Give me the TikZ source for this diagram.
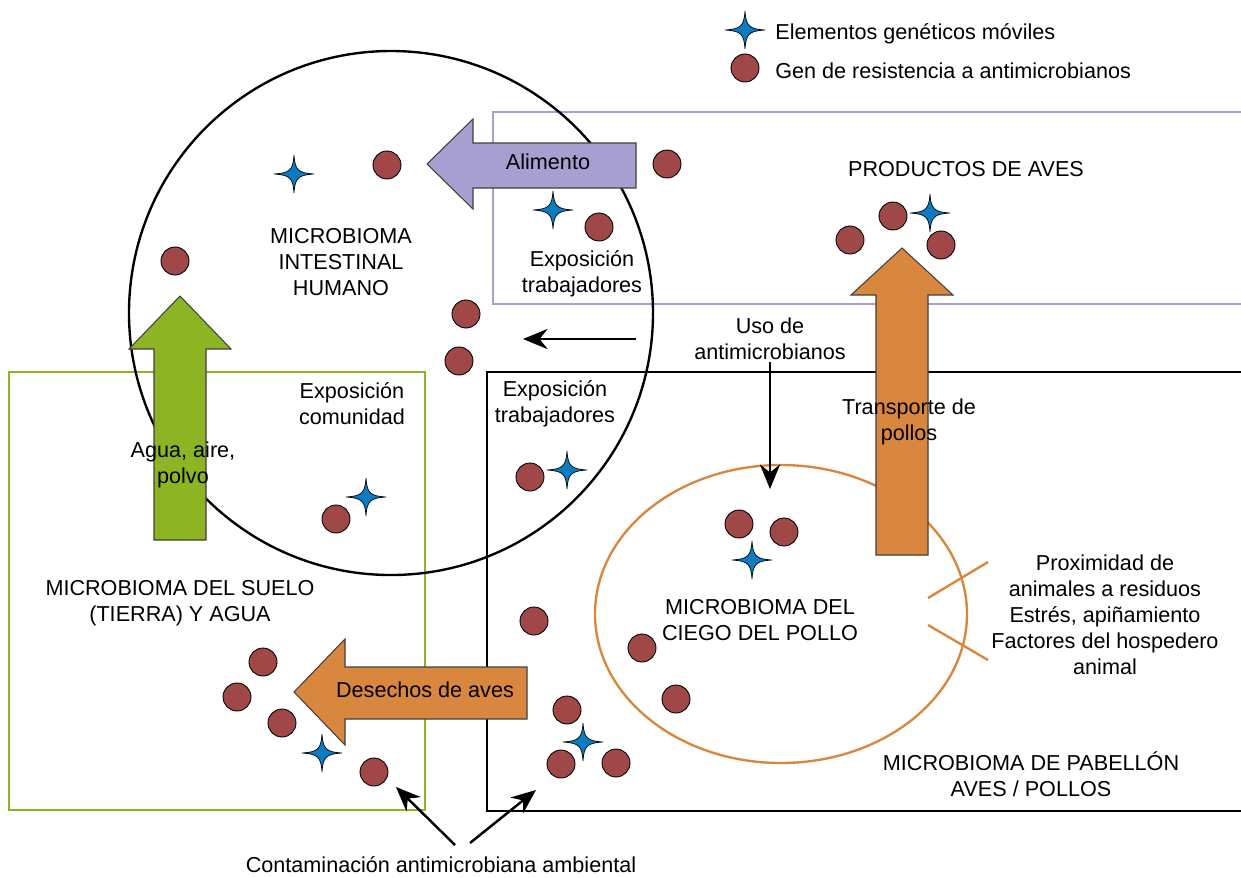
\documentclass[tikz,border=0pt]{standalone}
\usepackage{fontspec}
\setmainfont{Liberation Sans}
\usetikzlibrary{arrows.meta}
\definecolor{lavender}{HTML}{A79FCF}
\definecolor{grassgreen}{HTML}{8DB422}
\definecolor{poultryorange}{HTML}{D9873F}
\definecolor{genered}{HTML}{A04848}
\definecolor{mgeblue}{HTML}{0B7CC2}
\tikzset{
  txt/.style={align=center,font=\fontsize{12.3pt}{14.75pt}\selectfont,inner sep=0pt},
  region/.style={line width=1.35pt},
  bigarrow/.style={draw=black!75,line width=0.6pt,line join=miter},
  gene/.style={circle,draw=black,fill=genered,line width=0.5pt,minimum size=0.56cm,inner sep=0pt},
  mge/.pic={\filldraw[fill=mgeblue,draw=black,line width=0.4pt] (20,0) .. controls (4,1) and (1,4) .. (0,19) .. controls (-1,4) and (-4,1) .. (-20,0) .. controls (-4,-1) and (-1,-4) .. (0,-19) .. controls (1,-4) and (4,-1) .. cycle;},
  flow/.style={line width=1.4pt,-{Stealth[length=14pt,width=11.5pt]}}
}

\begin{document}
\begin{tikzpicture}[x=0.02cm,y=-0.02cm]
  \useasboundingbox (0,0) rectangle (1241,877);

  % regions
  \draw[region,lavender] (493,112) rectangle (1250,304);
  \draw[region,grassgreen] (9,372) rectangle (425,810);
  \draw[region,black] (487,372) rectangle (1250,811);
  \draw[region,poultryorange] (781,614) ellipse [x radius=186,y radius=149];
  \draw[region,black] (391,313) circle [radius=262];

  % factors touching the caecum
  \draw[region,poultryorange] (928,598) -- (988,562);
  \draw[region,poultryorange] (928,625) -- (988,660);

  % big arrows
  \draw[bigarrow,fill=lavender] (427,164) -- (473,119) -- (473,143) -- (636,143) -- (636,188) -- (473,188) -- (473,209) -- cycle;
  \draw[bigarrow,fill=grassgreen] (180,296) -- (231,349) -- (206,349) -- (206,540) -- (154,540) -- (154,349) -- (129,349) -- cycle;
  \draw[bigarrow,fill=poultryorange] (902,248) -- (953,295) -- (928,295) -- (928,555) -- (876,555) -- (876,295) -- (851,295) -- cycle;
  \draw[bigarrow,fill=poultryorange] (294,692) -- (345,639) -- (345,667) -- (527,667) -- (527,719) -- (345,719) -- (345,745) -- cycle;

  % genes and mobile elements
  \foreach \x/\y [count=\i] in {745/68,387/165,667/164,599/227,175/261,466/314,459/361,893/216,850/240,941/245,530/477,336/519,739/524,784/532,534/621,642/648,676/699,263/662,237/697,282/723,374/772,567/710,561/764,616/763}
    \node[gene] (gene\i) at (\x,\y) {};
  \foreach \x/\y [count=\i] in {745/30,294/174,553/210,930/213,567/470,366/497,752/560,322/753,583/742}
    \pic (mge\i) at (\x,\y) {mge};

  % texts
  \node[txt,anchor=base west] (legmge) at (775,39) {Elementos genéticos móviles};
  \node[txt,anchor=base west] (leggene) at (775,78) {Gen de resistencia a antimicrobianos};
  \node[txt] (food) at (548,162) {Alimento};
  \node[txt] (products) at (966,169) {PRODUCTOS DE AVES};
  \node[txt] (human) at (341,262) {MICROBIOMA\\INTESTINAL\\HUMANO};
  \node[txt] (workers1) at (582,274) {Exposición\\trabajadores};
  \node[txt] (use) at (770,339) {Uso de\\antimicrobianos};
  \node[txt] (community) at (352,404) {Exposición\\comunidad};
  \node[txt] (workers2) at (555,404) {Exposición\\trabajadores};
  \node[txt] (transport) at (909,422) {Transporte de\\pollos};
  \node[txt] (air) at (183,465) {Agua, aire,\\polvo};
  \node[txt] (soil) at (180,603) {MICROBIOMA DEL SUELO\\(TIERRA) Y AGUA};
  \node[txt] (caecum) at (760,620) {MICROBIOMA DEL\\CIEGO DEL POLLO};
  \node[txt] (factors) at (1105,615) {Proximidad de\\animales a residuos\\Estrés, apiñamiento\\Factores del hospedero\\animal};
  \node[txt] (waste) at (425,690) {Desechos de aves};
  \node[txt] (house) at (1031,774) {MICROBIOMA DE PABELLÓN\\AVES / POLLOS};
  \node[txt] (contamination) at (441,865) {Contaminación antimicrobiana ambiental};

  % thin arrows
  \coordinate (workersout) at (636,339);
  \coordinate (workersin) at (523,339);
  \coordinate (usestart) at (770,362);
  \coordinate (useend) at (770,489);
  \coordinate (contleft) at (455,845);
  \coordinate (contright) at (470,843);
  \coordinate (soilend) at (396,787);
  \coordinate (houseend) at (536,790);
  \draw[flow] (workersout) -- (workersin);
  \draw[flow] (usestart) -- (useend);
  \draw[flow] (contleft) -- (soilend);
  \draw[flow] (contright) -- (houseend);
\end{tikzpicture}
\end{document}
